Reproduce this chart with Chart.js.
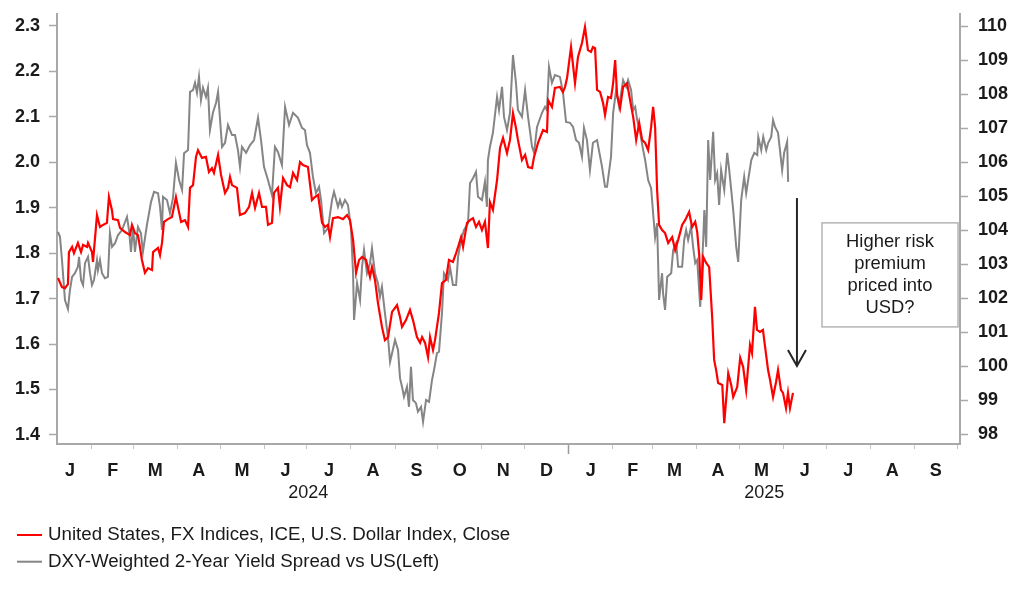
<!DOCTYPE html>
<html><head><meta charset="utf-8">
<script src="https://cdn.jsdelivr.net/npm/chart.js@4.4.1/dist/chart.umd.min.js"></script>
<style>html,body{margin:0;padding:0;background:#fff;}#wrap{width:1022px;height:597px;}</style>
</head><body><div id="wrap"><canvas id="c" width="1022" height="597"></canvas></div>
<script>
// ---- data (x = days since 2024-01-01) ----
const seriesNames = ['United States, FX Indices, ICE, U.S. Dollar Index, Close', 'DXY-Weighted 2-Year Yield Spread vs US(Left)'];
const dxyDays = [7.1,9.9,12.0,14.1,14.8,17.0,18.3,21.1,23.3,24.7,27.5,28.2,31.0,31.7,34.5,36.6,38.7,41.5,42.9,45.0,45.8,49.3,50.7,54.2,57.7,59.1,61.2,63.3,64.7,66.1,68.2,70.4,73.2,73.9,77.4,78.8,80.2,81.6,84.4,87.2,90.0,91.4,93.6,96.4,98.5,99.9,102.0,104.1,105.5,108.3,111.1,113.2,115.3,116.7,119.6,121.7,124.5,126.6,128.0,129.4,132.9,135.0,138.5,141.4,143.5,145.6,148.4,150.5,153.3,154.7,157.5,158.9,161.7,163.1,165.3,168.1,170.2,172.3,175.1,177.2,179.3,182.8,185.6,187.7,189.9,192.7,194.8,196.9,198.3,200.4,203.9,207.4,210.3,212.3,214.5,216.6,218.7,220.8,223.6,226.4,227.8,229.9,232.0,234.8,236.9,239.1,241.9,245.4,247.5,248.9,251.7,254.5,256.6,259.4,261.6,263.0,265.1,267.2,268.6,270.7,272.1,274.9,277.0,279.8,281.9,284.7,286.9,288.3,290.4,291.8,294.6,296.7,298.8,300.9,303.0,305.1,307.2,309.3,310.7,312.8,315.7,317.8,319.9,322.7,324.8,326.9,329.0,330.4,333.2,335.4,337.5,340.3,341.7,344.5,348.0,350.8,351.6,354.3,356.4,359.9,362.0,363.5,364.9,367.7,370.5,372.6,375.4,377.5,379.6,381.7,383.1,384.6,386.0,388.1,390.2,391.6,393.7,395.8,397.3,398.7,400.1,402.2,404.3,407.1,409.2,411.4,413.5,415.6,417.7,419.8,421.9,424.0,425.4,426.8,428.2,429.6,431.7,433.8,436.0,438.8,440.9,443.0,445.8,447.9,450.7,452.8,455.0,456.4,457.8,459.2,460.6,462.7,464.8,466.9,468.3,469.7,471.1,474.0,475.4,478.2,480.3,481.7,484.5,486.6,488.7,490.8,493.5,494.9,497.0,498.4,500.5,502.6,504.1,506.2,507.6,509.7,511.8,513.2,515.3,516.7,518.8,520.2,521.6,523.7];
const dxyValues = [102.59,102.32,102.29,102.41,103.35,103.50,103.32,103.62,103.35,103.56,103.50,103.62,103.35,103.06,104.44,104.09,104.15,104.21,104.97,104.59,104.32,104.29,104.06,103.94,103.85,104.15,103.91,103.85,103.50,103.12,102.74,102.88,102.82,103.35,103.47,103.26,103.62,104.24,104.32,104.38,104.97,104.68,104.24,104.29,104.09,105.24,105.32,106.15,106.35,106.12,106.15,105.71,105.82,105.68,106.21,105.62,105.09,105.24,105.56,105.32,105.24,104.44,104.50,104.68,105.09,104.65,105.09,104.68,104.68,104.15,104.21,105.09,105.24,104.68,105.53,105.32,105.26,105.68,105.47,106.00,105.91,105.85,104.88,104.97,105.03,104.21,104.09,104.15,103.79,104.35,104.38,104.32,104.44,104.29,103.71,102.74,103.12,103.21,103.12,102.62,102.91,102.53,101.85,101.15,100.76,100.85,101.59,101.79,101.44,101.15,101.35,101.65,101.35,100.85,100.68,100.85,100.68,100.26,100.85,100.47,100.76,101.56,102.44,102.53,103.12,103.06,103.32,103.50,103.79,103.50,104.21,104.29,104.35,104.09,104.24,104.00,104.24,103.47,104.82,104.59,105.47,106.41,106.71,106.26,106.65,107.44,107.00,106.65,106.06,106.21,105.85,105.82,106.15,106.56,106.94,106.88,107.82,107.62,108.18,108.21,108.06,108.21,108.47,109.38,108.32,109.09,109.50,109.97,109.29,109.24,109.38,109.35,108.12,108.06,107.74,107.38,107.91,107.88,108.32,109.00,107.97,107.59,108.21,108.32,107.82,107.32,106.65,107.15,106.65,106.56,106.35,107.03,107.62,107.03,105.18,104.15,104.00,103.91,103.62,103.79,103.41,103.71,104.15,104.29,104.53,104.09,104.24,103.94,103.26,101.94,103.21,103.03,102.91,101.44,100.18,99.88,99.50,99.44,98.32,99.79,99.44,99.09,99.38,100.24,99.97,99.29,100.62,100.38,101.74,101.06,101.00,101.06,100.56,99.88,99.59,99.09,99.53,99.88,99.29,99.21,98.76,99.21,98.76,99.21];
const spreadDays = [7.1,8.5,9.9,12.0,14.1,15.5,17.0,19.0,21.1,21.9,23.3,24.7,26.1,28.2,29.6,31.0,32.4,34.5,35.2,36.6,38.0,40.1,42.2,43.6,45.1,47.2,49.3,52.1,55.6,57.0,58.4,59.8,61.2,63.3,65.4,66.8,69.6,72.5,74.6,77.4,78.8,80.2,80.9,83.7,85.8,87.9,90.0,92.2,94.3,95.7,98.5,99.9,102.0,103.4,104.8,106.2,107.6,109.0,111.1,112.5,113.9,116.0,118.2,119.6,122.4,124.5,126.6,129.4,131.5,133.6,135.0,136.4,139.3,142.1,144.9,147.7,149.8,151.9,154.7,157.5,159.6,161.7,164.5,166.7,169.5,172.3,175.8,178.6,180.7,182.1,184.2,186.3,188.4,190.6,192.0,194.1,196.9,199.7,201.1,203.9,205.3,206.7,208.8,210.9,213.0,214.5,215.2,217.3,219.4,220.8,222.2,224.3,226.4,227.8,229.9,232.0,233.4,234.8,236.9,239.1,240.5,241.9,244.0,246.1,247.5,248.9,250.3,252.4,253.8,255.2,256.6,258.7,260.1,262.3,263.7,265.8,267.9,270.0,271.4,273.5,274.9,277.0,278.4,281.2,282.6,284.7,286.9,288.3,290.4,292.5,295.3,296.7,298.8,300.9,302.3,305.1,307.2,308.6,309.3,310.7,312.8,315.7,317.1,319.2,320.6,322.7,324.8,326.9,329.0,330.4,333.2,335.4,337.5,340.3,341.7,343.8,347.3,349.4,350.8,352.2,354.3,356.4,359.9,362.0,364.2,367.0,369.1,371.2,373.3,375.4,376.8,378.9,381.0,383.1,386.0,389.5,391.6,393.0,395.8,397.3,399.4,401.5,404.3,406.4,407.8,409.9,411.4,412.8,414.2,416.3,418.4,419.8,421.9,424.0,425.4,426.8,428.2,429.6,431.7,432.4,433.8,435.3,438.1,439.5,441.6,443.0,445.8,447.2,448.6,450.0,452.1,453.5,455.0,456.4,458.5,460.6,461.4,462.7,464.1,465.5,467.6,469.0,470.4,471.8,473.2,475.4,477.5,478.9,481.7,483.8,485.2,487.3,489.4,490.8,492.2,494.4,496.5,498.6,499.3,501.4,502.8,504.9,506.3,508.4,509.7,511.1,513.2,516.1,517.5,519.6,520.3];
const spreadValues = [1.847,1.836,1.785,1.697,1.677,1.719,1.748,1.756,1.770,1.792,1.741,1.730,1.778,1.792,1.756,1.730,1.741,1.785,1.763,1.785,1.756,1.745,1.748,1.844,1.814,1.822,1.840,1.851,1.880,1.851,1.803,1.858,1.803,1.858,1.844,1.803,1.862,1.913,1.935,1.932,1.902,1.851,1.924,1.917,1.888,1.921,1.999,1.961,1.939,2.020,2.027,2.155,2.159,2.175,2.153,2.188,2.137,2.164,2.144,2.164,2.071,2.109,2.131,2.155,2.034,2.043,2.082,2.060,2.060,2.027,1.990,2.034,2.021,2.038,2.049,2.098,2.049,1.990,1.961,1.928,2.034,2.023,1.994,2.122,2.082,2.109,2.098,2.076,2.071,2.038,2.021,1.968,1.932,1.946,1.917,1.844,1.855,1.917,1.935,1.902,1.917,1.902,1.917,1.906,1.858,1.756,1.653,1.734,1.697,1.770,1.807,1.756,1.778,1.811,1.756,1.734,1.704,1.726,1.668,1.613,1.561,1.580,1.609,1.587,1.525,1.506,1.484,1.506,1.462,1.550,1.477,1.470,1.451,1.462,1.429,1.477,1.473,1.521,1.543,1.580,1.583,1.668,1.756,1.741,1.770,1.730,1.730,1.792,1.829,1.851,1.866,1.954,1.965,1.979,1.924,1.917,1.957,1.902,2.005,2.034,2.065,2.144,2.115,2.166,2.100,2.071,2.109,2.236,2.175,2.115,2.100,2.159,2.100,2.034,2.021,2.078,2.109,2.122,2.115,2.210,2.175,2.192,2.188,2.155,2.089,2.087,2.078,2.049,2.043,2.012,2.076,2.049,1.983,2.043,2.049,1.990,1.946,1.946,2.012,2.109,2.159,2.122,2.181,2.166,2.181,2.159,2.115,2.122,2.093,2.065,2.027,2.005,1.961,1.943,1.888,1.835,1.866,1.697,1.756,1.712,1.675,1.748,1.756,1.807,1.822,1.770,1.770,1.829,1.851,1.829,1.858,1.814,1.778,1.785,1.682,1.829,1.895,1.814,2.049,1.961,2.067,1.961,1.976,1.906,1.983,1.939,2.021,1.983,1.895,1.814,1.781,1.917,1.968,1.932,1.961,2.005,2.021,2.016,2.056,2.027,2.056,2.027,2.043,2.056,2.093,2.078,2.065,1.983,2.021,2.045,1.957];

// ---- axis categories / ticks ----
const monthStarts = ['2024-01-01','2024-02-01','2024-03-01','2024-04-01','2024-05-01','2024-06-01','2024-07-01','2024-08-01','2024-09-01','2024-10-01','2024-11-01','2024-12-01','2025-01-01','2025-02-01','2025-03-01','2025-04-01','2025-05-01','2025-06-01','2025-07-01','2025-08-01','2025-09-01','2025-10-01'];
const monthLetters = ['J','F','M','A','M','J','J','A','S','O','N','D','J','F','M','A','M','J','J','A','S'];
const yearLabels = ['2024','2025'];
const yearCentreDays = [183, 503.5];
const yearBoundary = '2025-01-01';
const leftTicks = [1.4,1.5,1.6,1.7,1.8,1.9,2.0,2.1,2.2,2.3];
const rightTicks = [98,99,100,101,102,103,104,105,106,107,108,109,110];
const calloutLines = ['Higher risk','premium','priced into','USD?'];
const callout = { x0: 544.1, x1: 639.7, top: 104.21, bottom: 101.15 };   // right-axis units
const arrow = { x: 526.5, from: 104.94, to: 100.0 };                    // right-axis units

// ---- ranges ----
const xMin = 6.4, xMax = 641.1;
const leftMin = 1.3801, leftMax = 2.3264;
const rightMin = 97.706, rightMax = 110.353;

const DAY0 = Date.UTC(2024,0,1);
const toDay = s => (Date.parse(s + 'T00:00:00Z') - DAY0) / 86400000;
const monthStartDays = monthStarts.map(toDay);
const monthMidDays = monthLetters.map((_, i) => (monthStartDays[i] + monthStartDays[i+1]) / 2);
const yearBoundaryDay = toDay(yearBoundary);

const FONT = "'Liberation Sans', Arial, sans-serif";
const TXT = '#1a1a1a';
const AXIS = '#a8a8a8';
Chart.defaults.font.family = FONT;

const zeroPad = s => { s.paddingLeft = 0; s.paddingRight = 0; s.paddingTop = 0; s.paddingBottom = 0; };

const annotationPlugin = {
  id: 'callout',
  afterDatasetsDraw(chart) {
    const ctx = chart.ctx, sx = chart.scales.x, sy = chart.scales.y2;
    ctx.save();
    const ax = sx.getPixelForValue(arrow.x), ay0 = sy.getPixelForValue(arrow.from), ay1 = sy.getPixelForValue(arrow.to);
    ctx.strokeStyle = '#262626'; ctx.lineWidth = 2; ctx.lineCap = 'butt';
    ctx.beginPath(); ctx.moveTo(ax, ay0); ctx.lineTo(ax, ay1); ctx.stroke();
    ctx.beginPath(); ctx.moveTo(ax - 9, ay1 - 16); ctx.lineTo(ax, ay1); ctx.lineTo(ax + 9, ay1 - 16); ctx.stroke();
    const bx0 = sx.getPixelForValue(callout.x0), bx1 = sx.getPixelForValue(callout.x1);
    const by0 = sy.getPixelForValue(callout.top), by1 = sy.getPixelForValue(callout.bottom);
    ctx.fillStyle = '#fff'; ctx.fillRect(bx0, by0, bx1 - bx0, by1 - by0);
    ctx.strokeStyle = '#b4b4b4'; ctx.lineWidth = 1.5; ctx.strokeRect(bx0, by0, bx1 - bx0, by1 - by0);
    ctx.fillStyle = TXT; ctx.font = '18.4px ' + FONT; ctx.textAlign = 'center'; ctx.textBaseline = 'middle';
    const cx = (bx0 + bx1) / 2, cy = (by0 + by1) / 2, lh = 21.7;
    calloutLines.forEach((t, i) => ctx.fillText(t, cx, cy + (i - (calloutLines.length - 1) / 2) * lh));
    ctx.restore();
  }
};

const legendPlugin = {
  id: 'bottomLegend',
  afterDraw(chart) {
    const ctx = chart.ctx;
    ctx.save();
    ctx.font = '18.7px ' + FONT; ctx.textBaseline = 'middle'; ctx.textAlign = 'left';
    chart.data.datasets.forEach((ds, i) => {
      const y = 535 + i * 26.7;
      ctx.strokeStyle = ds.borderColor; ctx.lineWidth = 2;
      ctx.beginPath(); ctx.moveTo(17, y); ctx.lineTo(42, y); ctx.stroke();
      ctx.fillStyle = TXT; ctx.fillText(ds.label, 48, y);
    });
    ctx.restore();
  }
};

new Chart(document.getElementById('c'), {
  type: 'line',
  data: {
    datasets: [
      { label: seriesNames[0], data: dxyDays.map((d, i) => ({ x: d, y: dxyValues[i] })), yAxisID: 'y2', xAxisID: 'x',
        borderColor: '#ff0000', borderWidth: 2.2, pointRadius: 0, tension: 0, fill: false },
      { label: seriesNames[1], data: spreadDays.map((d, i) => ({ x: d, y: spreadValues[i] })), yAxisID: 'y', xAxisID: 'x',
        borderColor: '#858585', borderWidth: 2, pointRadius: 0, tension: 0, fill: false }
    ]
  },
  plugins: [annotationPlugin, legendPlugin],
  options: {
    responsive: false, animation: false, devicePixelRatio: 1,
    layout: { padding: { left: 0, right: 0, top: 14, bottom: 89 } },
    plugins: { legend: { display: false }, tooltip: { enabled: false } },
    scales: {
      x: {
        type: 'linear', position: 'bottom', weight: 0, min: xMin, max: xMax, bounds: 'data',
        afterBuildTicks: s => { s.ticks = monthStartDays.filter(d => d >= xMin && d <= xMax).map(v => ({ value: v })); },
        ticks: { display: false },
        grid: { display: true, drawOnChartArea: false, drawTicks: true, tickLength: 10,
          tickColor: c => (c.tick && c.tick.value === yearBoundaryDay) ? '#9a9a9a' : '#c4c4c4',
          tickWidth: c => (c.tick && c.tick.value === yearBoundaryDay) ? 1.5 : 1,
          tickBorderDash: c => (c.tick && c.tick.value === yearBoundaryDay) ? [] : [4, 40] },
        border: { display: true, color: AXIS, width: 2 },
        afterFit: s => { s.height = 9; zeroPad(s); }
      },
      xm: {
        type: 'linear', position: 'bottom', weight: 1, min: xMin, max: xMax, bounds: 'data',
        afterBuildTicks: s => { s.ticks = monthMidDays.map(v => ({ value: v })); },
        ticks: { autoSkip: false, maxRotation: 0, minRotation: 0, padding: 7, color: TXT, font: { size: 18, weight: 'bold' },
          callback: (v, i) => monthLetters[i] },
        grid: { display: false, drawTicks: false }, border: { display: false },
        afterFit: s => { s.height = 25; zeroPad(s); }
      },
      xy: {
        type: 'linear', position: 'bottom', weight: 2, min: xMin, max: xMax, bounds: 'data',
        afterBuildTicks: s => { s.ticks = yearCentreDays.map(v => ({ value: v })); },
        ticks: { autoSkip: false, maxRotation: 0, minRotation: 0, padding: 4, color: TXT, font: { size: 18 },
          callback: (v, i) => yearLabels[i] },
        grid: { display: false, drawTicks: false }, border: { display: false },
        afterFit: s => { s.height = 30; zeroPad(s); }
      },
      y: {
        type: 'linear', position: 'left', min: leftMin, max: leftMax, bounds: 'data',
        afterBuildTicks: s => { s.ticks = leftTicks.map(v => ({ value: v })); },
        ticks: { padding: 9, color: TXT, font: { size: 18, weight: 'bold' }, callback: v => v.toFixed(1) },
        grid: { drawOnChartArea: false, drawTicks: true, tickLength: 8, tickColor: AXIS, tickWidth: 1.5 },
        border: { display: true, color: AXIS, width: 2 },
        afterFit: s => { s.width = 57; zeroPad(s); }
      },
      y2: {
        type: 'linear', position: 'right', min: rightMin, max: rightMax, bounds: 'data',
        afterBuildTicks: s => { s.ticks = rightTicks.map(v => ({ value: v })); },
        ticks: { padding: 10, color: TXT, font: { size: 18, weight: 'bold' }, callback: v => String(v) },
        grid: { drawOnChartArea: false, drawTicks: true, tickLength: 8, tickColor: AXIS, tickWidth: 1.5 },
        border: { display: true, color: AXIS, width: 2 },
        afterFit: s => { s.width = 62; zeroPad(s); }
      }
    }
  }
});
</script>
</body></html>
